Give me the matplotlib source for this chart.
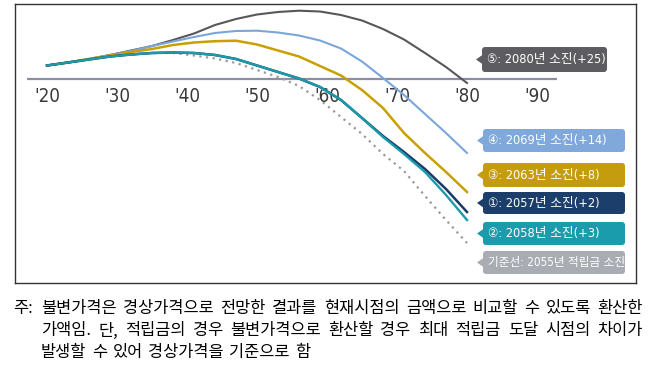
import matplotlib
matplotlib.use("Agg")
import matplotlib.pyplot as plt
from matplotlib import font_manager
from matplotlib.font_manager import FontProperties
from matplotlib.patches import FancyBboxPatch, Polygon
from matplotlib.transforms import Affine2D

# ---------------- data ----------------
years = [2020, 2023, 2026, 2029, 2032, 2035, 2038, 2041, 2044, 2047, 2050,
         2053, 2056, 2059, 2062, 2065, 2068, 2071, 2074, 2077, 2080]
s5_gray = [13.5, 16.5, 20, 24, 28.5, 33, 39, 45.5, 54, 60, 64.5,
           67, 68.3, 67.5, 64, 58.5, 50, 39.5, 26, 12, -4]
s4_blue = [13.5, 16.5, 20, 24, 28, 33, 37.5, 42, 46, 48, 48.3,
           46.5, 43.5, 38.5, 30.5, 17.5, 1, -16, -35, -54, -74]
s3_gold = [13.5, 16.5, 20, 23.5, 27, 30, 34, 36.5, 37.8, 38.3, 34.5,
           28.5, 22.5, 13, 3.5, -11, -29, -54, -74, -93, -113]
s1_navy = [13.5, 16.5, 19.5, 22.5, 24.5, 26, 26.5, 26, 24, 20, 13.5,
           7, 0.5, -8, -21, -39, -57, -73, -90, -110, -133]
s2_teal = [13.5, 16.5, 19.5, 22.5, 24.5, 26, 26.5, 26, 24, 20, 13.5,
           7, 0.5, -8, -21, -39, -58, -75, -93, -116, -141]
base_dot = [13.5, 16.5, 19.5, 22.5, 24.5, 26, 26, 23.5, 20.5, 16, 9,
            2, -7, -21, -38, -55, -75, -92, -117, -141, -164]

tick_years = [2020, 2030, 2040, 2050, 2060, 2070, 2080, 2090]
tick_labels = ["'20", "'30", "'40", "'50", "'60", "'70", "'80", "'90"]

callouts = ["⑤: 2080년 소진(+25)", "④: 2069년 소진(+14)", "③: 2063년 소진(+8)",
            "①: 2057년 소진(+2)", "②: 2058년 소진(+3)", "기준선: 2055년 적립금 소진"]

note_line1 = "불변가격은 경상가격으로 전망한 결과를 현재시점의 금액으로 비교할 수 있도록 환산한"
note_line2 = "가액임. 단, 적립금의 경우 불변가격으로 환산할 경우 최대 적립금 도달 시점의 차이가"
note_line3 = "발생할 수 있어 경상가격을 기준으로 함"

# ---------------- styles ----------------
C_GRAY, C_BLUE, C_GOLD = "#58575b", "#7aa6da", "#c8a000"
C_NAVY, C_TEAL, C_DOT = "#1b3a66", "#1a9aaa", "#9a9a9a"
box_colors = ["#5d5c60", "#80a8da", "#c59c0d", "#1c3e6b", "#1a9cac", "#a9acb2"]
callout_sizes = [9.2, 9.2, 9.2, 9.2, 9.2, 8.4]

KR = "Noto Sans CJK KR"
flist = font_manager.fontManager.ttflist
names = {f.name for f in flist}
if "Liberation Sans Narrow" in names:
    LAT_FAMILY, LAT_STRETCH = "Liberation Sans Narrow", "normal"
elif any(f.name == "DejaVu Sans" and f.stretch == "condensed" for f in flist):
    LAT_FAMILY, LAT_STRETCH = "DejaVu Sans", "condensed"
else:
    LAT_FAMILY, LAT_STRETCH = "Liberation Sans", "normal"


def latfont(size):
    return FontProperties(family=[LAT_FAMILY, KR], stretch=LAT_STRETCH, size=size)


W, H = 658, 381
fig = plt.figure(figsize=(W / 100, H / 100), dpi=100)
PX = Affine2D().scale(1, -1).translate(0, H)   # pixel coords (top-left origin) -> display

# axes framed like the chart box
L, T, R, B = 15, 4, 636, 283
ax = fig.add_axes([L / W, 1 - B / H, (R - L) / W, (B - T) / H])
x0_px, px_per_year, y0_px = 47, 7.0, 79
ax.set_xlim(2020 + (L - x0_px) / px_per_year, 2020 + (R - x0_px) / px_per_year)
ax.set_ylim(y0_px - B, y0_px - T)
ax.set_xticks([])
ax.set_yticks([])
for sp in ax.spines.values():
    sp.set_color("#333333")
    sp.set_linewidth(1.0)

# zero baseline
ax.hlines(0, 2017.15, 2092.85, color="#8c8fa3", lw=1.6, zorder=1)

# tick labels
for yr, lab in zip(tick_years, tick_labels):
    ax.text(yr, -18, lab, ha="center", va="center", fontproperties=latfont(13.5),
            color="#3a3a3a")

# series
ax.plot(years, base_dot, color=C_DOT, lw=1.6, ls=(0, (1, 2)), zorder=2)
ax.plot(years, s5_gray, color=C_GRAY, lw=1.5, zorder=3)
ax.plot(years, s4_blue, color=C_BLUE, lw=1.5, zorder=3)
ax.plot(years, s3_gold, color=C_GOLD, lw=1.8, zorder=3)
ax.plot(years, s1_navy, color=C_NAVY, lw=1.8, zorder=4)
ax.plot(years, s2_teal, color=C_TEAL, lw=1.7, zorder=5)

# callout boxes
box_rows = [(47, 72, 482, 607), (129, 152, 483, 625), (163, 187, 483, 625),
            (192, 214, 483, 625), (222, 245, 483, 625), (251, 274, 483, 625)]
for (yt, yb, xl, xr), col, txt, fs in zip(box_rows, box_colors, callouts, callout_sizes):
    p = FancyBboxPatch((xl, yt), xr - xl, yb - yt,
                       boxstyle="round,pad=0,rounding_size=3",
                       transform=PX, facecolor=col, edgecolor="none")
    fig.patches.append(p)
    yc = (yt + yb) / 2
    tri = Polygon([(xl + 1, yc - 5), (xl - 6, yc), (xl + 1, yc + 5)],
                  closed=True, transform=PX, facecolor=col, edgecolor="none")
    fig.patches.append(tri)
    fig.text(xl + 5, yc, txt, transform=PX, ha="left", va="center",
             fontproperties=latfont(fs), color="white")

# footnote (justified)
FS = 11.8
renderer = fig.canvas.get_renderer()


def place_words(line, xl, y, xr=None, gap=7.0):
    words = line.split(" ")
    ts = [fig.text(0, y, w, transform=PX, ha="left", va="center",
                   fontsize=FS, family=[KR], color="black") for w in words]
    widths = [t.get_window_extent(renderer).width for t in ts]
    if xr is not None:
        gap = (xr - xl - sum(widths)) / (len(ts) - 1)
    x = xl
    for t, w in zip(ts, widths):
        t.set_x(x)
        x += w + gap


fig.text(13, 309, "주:", transform=PX, ha="left", va="center",
         fontsize=FS, family=[KR], color="black")
place_words(note_line1, 41, 309, 643)
place_words(note_line2, 41, 331, 643)
place_words(note_line3, 41, 353, gap=5.5)

fig.savefig("out.png", dpi=100)
